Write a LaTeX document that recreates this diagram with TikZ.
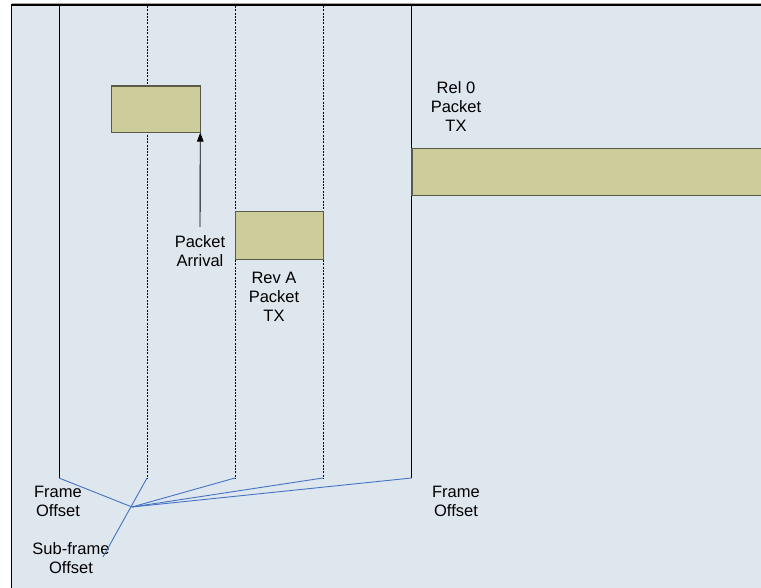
\documentclass[tikz,border=0pt]{standalone}
\usepackage{fontspec}
\setmainfont{Liberation Sans}
\usetikzlibrary{arrows.meta}
\definecolor{bgblue}{RGB}{222,230,238}
\definecolor{pkt}{RGB}{205,204,155}
\definecolor{pktedge}{RGB}{90,90,72}
\definecolor{offblue}{RGB}{70,115,196}
\tikzset{
  pktbox/.style={draw=pktedge, line width=1.3pt, fill=pkt, inner sep=0pt, outer sep=0pt},
  solidline/.style={draw=black, line width=0.9pt},
  dashline/.style={draw=black, line width=0.9pt, dash pattern=on 2pt off 1.3pt},
  offline/.style={draw=offblue, line width=0.9pt},
  lbl/.style={align=center, inner sep=0pt, font=\fontsize{16.5}{19}\selectfont},
}
\begin{document}
\begin{tikzpicture}[x=1pt,y=-1pt]
\useasboundingbox (0,0) rectangle (761,588);
\fill[white] (0,0) rectangle (761,588);
\draw[fill=bgblue, draw=black, line width=1.3pt] (11.5,5) rectangle (780,600);
\draw[gray!70, line width=0.8pt] (11.5,3.6) -- (780,3.6);
% vertical time lines
\coordinate (t0) at (59,6); \coordinate (b0) at (59,478);
\coordinate (t1) at (147,6); \coordinate (b1) at (147,478);
\coordinate (t2) at (235,6); \coordinate (b2) at (235,478);
\coordinate (t3) at (323,6); \coordinate (b3) at (323,478);
\coordinate (t4) at (411.5,6); \coordinate (b4) at (411.5,478);
\draw[solidline] (t0) -- (b0);
\draw[dashline] (t1) -- (b1);
\draw[dashline] (t2) -- (b2);
\draw[dashline] (t3) -- (b3);
\draw[solidline] (t4) -- (b4);
% packets
\node[pktbox, minimum width=89pt, minimum height=46.5pt] (box1) at (155.8,109.3) {};
\node[pktbox, minimum width=88pt, minimum height=48pt] (box2) at (279.3,235.3) {};
\node[pktbox, minimum width=380pt, minimum height=47pt] (box3) at (602,172.3) {};
% labels
\node[lbl] (pa) at (200,251) {Packet\\Arrival};
\node[lbl] (reva) at (274,296.5) {Rev A\\Packet\\TX};
\node[lbl] (rel0) at (456,106.5) {Rel 0\\Packet\\TX};
\node[lbl] (fo1) at (58,501.5) {Frame\\Offset};
\node[lbl] (fo2) at (456,501.5) {Frame\\Offset};
\node[lbl] (sfo) at (71,558) {Sub-frame\\Offset};
% arrow
\coordinate (atail) at (200,227);
\draw[black, line width=0.9pt, -{Triangle[length=9pt,width=6.5pt]}] (atail) -- (box1.south east);
% offset lines
\coordinate (conv) at (132,507);
\coordinate (sfend) at (103,557);
\draw[offline] (b0) -- (conv);
\draw[offline] (b2) -- (conv);
\draw[offline] (b3) -- (conv);
\draw[offline] (b4) -- (conv);
\draw[offline] (b1) -- (sfend);
\end{tikzpicture}
\end{document}
